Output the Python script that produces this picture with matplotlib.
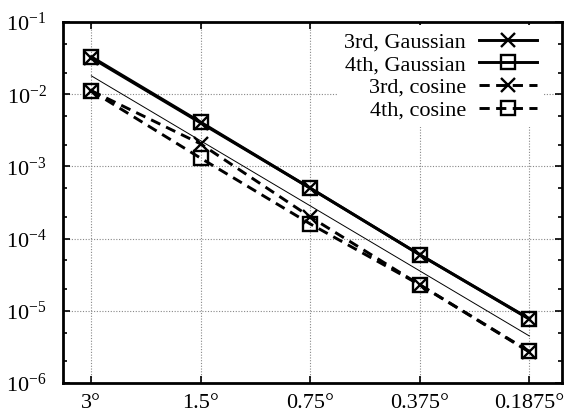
import matplotlib
matplotlib.use("Agg")
import matplotlib.pyplot as plt
from matplotlib.ticker import LogLocator, NullLocator, FixedLocator, FixedFormatter

plt.rcParams['font.family'] = ['Liberation Serif', 'DejaVu Serif']
plt.rcParams['mathtext.fontset'] = 'custom'
plt.rcParams['mathtext.rm'] = 'Liberation Serif'
plt.rcParams['mathtext.it'] = 'Liberation Serif:italic'

# grid spacing in degrees
res = [3, 1.5, 0.75, 0.375, 0.1875]
res_labels = ["3°", "1.5°", "0.75°", "0.375°", "0.1875°"]

err_3rd_gauss = [3.2e-2, 4.0e-3, 5.0e-4, 6.0e-5, 7.7e-6]
err_4th_gauss = [3.3e-2, 4.1e-3, 5.0e-4, 6.0e-5, 7.8e-6]
err_3rd_cos = [1.12e-2, 2.05e-3, 2.0e-4, 2.3e-5, 2.7e-6]
err_4th_cos = [1.12e-2, 1.3e-3, 1.6e-4, 2.3e-5, 2.75e-6]

# thin third-order reference line
ref_x = [3, 0.1875]
ref_y = [1.8e-2, 4.5e-6]

fig = plt.figure(figsize=(5.65, 4.16), dpi=100)
ax = fig.add_axes([0.112, 0.079, 0.883, 0.868])

lw = 2.1
ax.plot(ref_x, ref_y, color='black', lw=0.7)
ax.plot(res, err_3rd_gauss, color='black', lw=lw, marker='x', ms=10, mew=1.7,
        label='3rd, Gaussian')
ax.plot(res, err_4th_gauss, color='black', lw=lw, marker='s', ms=10, mew=1.7,
        mfc='none', label='4th, Gaussian')
ax.plot(res, err_3rd_cos, color='black', lw=lw, ls=(0, (3.5, 2.2)), marker='x',
        ms=10, mew=1.7, label='3rd, cosine')
ax.plot(res, err_4th_cos, color='black', lw=lw, ls=(0, (3.5, 2.2)), marker='s',
        ms=10, mew=1.7, mfc='none', label='4th, cosine')

ax.set_xscale('log')
ax.set_yscale('log')
ax.set_xlim(3 * 2 ** 0.256, 0.1875 / 2 ** 0.3)
ax.set_ylim(1e-6, 1e-1)

ax.xaxis.set_major_locator(FixedLocator(res))
ax.xaxis.set_major_formatter(FixedFormatter(res_labels))
ax.xaxis.set_minor_locator(NullLocator())

yt = [10.0 ** k for k in range(-6, 0)]
ax.yaxis.set_major_locator(FixedLocator(yt))
ax.yaxis.set_major_formatter(FixedFormatter(
    [r'$\mathregular{10^{-%d}}$' % k for k in range(6, 0, -1)]))
ax.yaxis.set_minor_locator(LogLocator(base=10, subs=[2, 5]))
ax.yaxis.set_minor_formatter(FixedFormatter([]))

ax.tick_params(which='both', direction='in', top=True, right=True,
               labelsize=16, width=1.2)
ax.tick_params(which='major', length=5)
ax.tick_params(axis='y', which='major', pad=12)
ax.tick_params(axis='x', which='major', pad=8)
ax.tick_params(which='minor', length=3)

ax.grid(True, which='major', color='#888888', ls=(0, (1, 1.5)), lw=0.8)
for s in ax.spines.values():
    s.set_linewidth(2)

leg = ax.legend(loc='upper right', bbox_to_anchor=(0.985, 1.022),
                markerfirst=False, numpoints=1, handlelength=2.6,
                fontsize=16, labelspacing=0.1, borderpad=0.3,
                handletextpad=0.6, fancybox=False, framealpha=1,
                facecolor='white', edgecolor='none')
for t in leg.get_texts():
    t.set_ha('right')
leg._legend_box.align = 'right'
for vp in leg._legend_handle_box.get_children():
    vp.align = 'right'

fig.savefig('out.png', dpi=100)
